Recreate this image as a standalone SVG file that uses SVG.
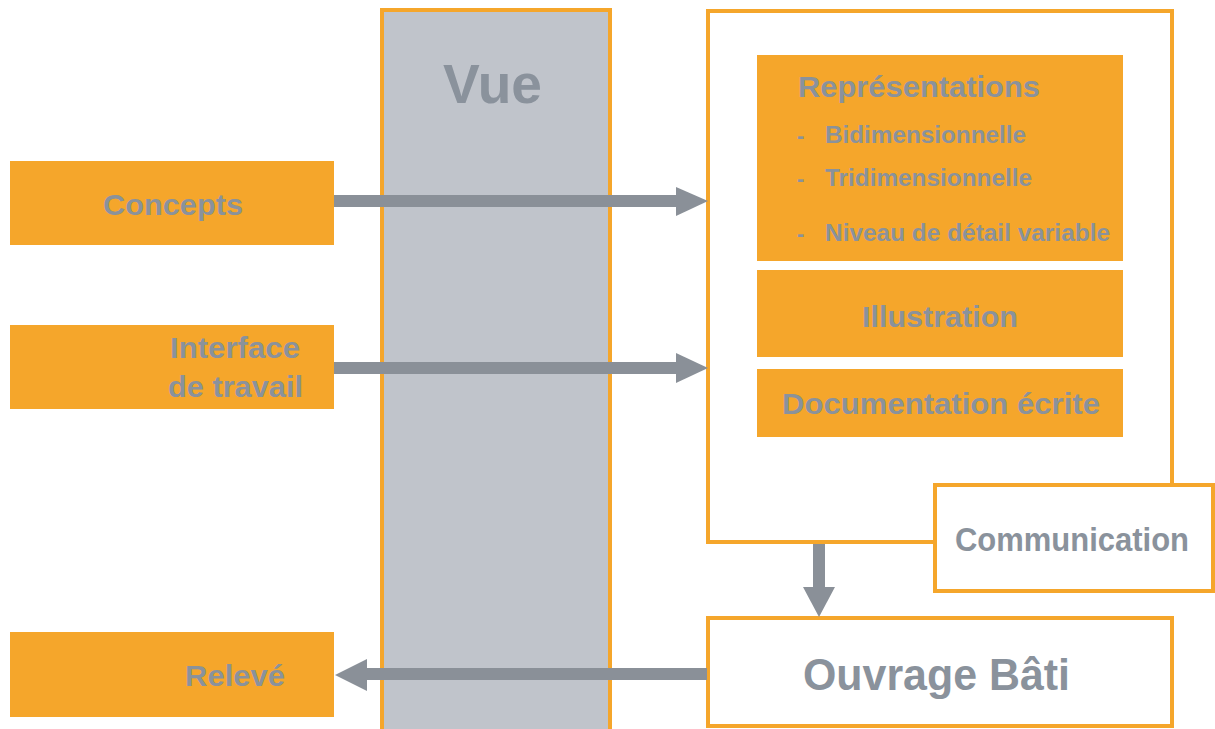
<svg xmlns="http://www.w3.org/2000/svg" width="1215" height="729" viewBox="0 0 1215 729">
<style>
.o{fill:#f5a62b;}
.w{fill:#ffffff;stroke:#f5a62b;stroke-width:4;}
.t{font-family:"Liberation Sans",Arial,sans-serif;font-weight:bold;fill:#8a929c;}
.n{font-family:"Liberation Sans",Arial,sans-serif;fill:#8a929c;}
.a{fill:#8a9098;}
</style>
<rect width="1215" height="729" fill="#ffffff"/>
<g id="vue">
<rect x="382" y="10" width="228" height="725" fill="#c0c4cb" stroke="#f5a62b" stroke-width="4"/>
<text class="t" x="443" y="103" font-size="55" textLength="99" lengthAdjust="spacingAndGlyphs">Vue</text>
</g>
<g id="concepts">
<rect class="o" x="10" y="161" width="324" height="84"/>
<text class="t" x="103" y="215" font-size="30" textLength="140" lengthAdjust="spacingAndGlyphs">Concepts</text>
</g>
<g id="interface">
<rect class="o" x="10" y="325" width="324" height="84"/>
<text class="t" x="170" y="358" font-size="29" textLength="130" lengthAdjust="spacingAndGlyphs">Interface</text>
<text class="t" x="168" y="397" font-size="29" textLength="135" lengthAdjust="spacingAndGlyphs">de travail</text>
</g>
<g id="releve">
<rect class="o" x="10" y="632" width="324" height="85"/>
<text class="t" x="185" y="686" font-size="30" textLength="100" lengthAdjust="spacingAndGlyphs">Relevé</text>
</g>
<g id="communication-frame">
<rect class="w" x="708" y="11" width="464" height="531"/>
</g>
<g id="representations">
<rect class="o" x="757" y="55" width="366" height="206"/>
<text class="t" x="798" y="97" font-size="29" textLength="242" lengthAdjust="spacingAndGlyphs">Représentations</text>
<text class="t" x="797" y="143" font-size="22">-</text>
<text class="t" x="825" y="143" font-size="23" textLength="201" lengthAdjust="spacingAndGlyphs">Bidimensionnelle</text>
<text class="t" x="797" y="186" font-size="22">-</text>
<text class="t" x="825" y="186" font-size="23" textLength="207" lengthAdjust="spacingAndGlyphs">Tridimensionnelle</text>
<text class="t" x="797" y="241" font-size="22">-</text>
<text class="t" x="825" y="241" font-size="23" textLength="285" lengthAdjust="spacingAndGlyphs">Niveau de détail variable</text>
</g>
<g id="illustration">
<rect class="o" x="757" y="270" width="366" height="87"/>
<text class="t" x="862" y="327" font-size="29" textLength="156" lengthAdjust="spacingAndGlyphs">Illustration</text>
</g>
<g id="documentation">
<rect class="o" x="757" y="369" width="366" height="68"/>
<text class="t" x="782" y="414" font-size="29" textLength="318" lengthAdjust="spacingAndGlyphs">Documentation écrite</text>
</g>
<g id="communication">
<rect class="w" x="935" y="485" width="278" height="106"/>
<text class="n" x="955" y="551" font-size="33" font-weight="600" textLength="234" lengthAdjust="spacingAndGlyphs">Communication</text>
</g>
<g id="ouvrage">
<rect class="w" x="708" y="618" width="464" height="108"/>
<text class="t" x="803" y="690" font-size="44" textLength="267" lengthAdjust="spacingAndGlyphs">Ouvrage Bâti</text>
</g>
<g id="connectors">
<rect class="a" x="334" y="195" width="344" height="12"/>
<polygon class="a" points="676,187 708,201 676,216"/>
<rect class="a" x="334" y="362" width="344" height="12"/>
<polygon class="a" points="676,353 708,368 676,383"/>
<rect class="a" x="813" y="544" width="12" height="44"/>
<polygon class="a" points="803,587 835,587 819,617"/>
<rect class="a" x="366" y="668" width="341" height="12"/>
<polygon class="a" points="367,659 335,675 367,691"/>
</g>
</svg>
